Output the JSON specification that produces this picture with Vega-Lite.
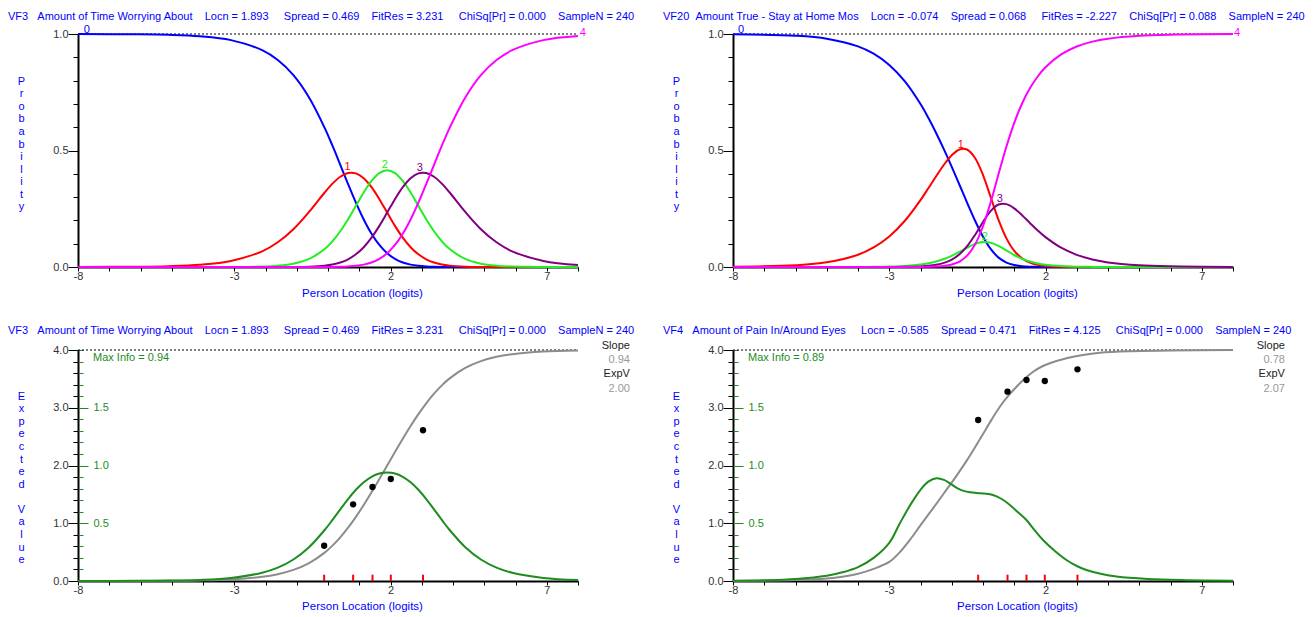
{
"$schema": "https://vega.github.io/schema/vega-lite/v6.json",
"padding": {"left": 8, "top": 11, "right": 5, "bottom": 5},
"config": {
 "font": "Liberation Sans",
 "view": {"stroke": null},
 "axis": {"grid": false, "domainColor": "#000000", "domainWidth": 2, "tickColor": "#000000", "tickWidth": 1, "labelColor": "#333333", "labelFontSize": 11, "labelFont": "Liberation Sans", "titleFont": "Liberation Sans", "titleFontSize": 11, "titleFontWeight": "normal", "titleColor": "#0000ff", "labelFlush": false, "labelOverlap": false, "labelBound": false},
 "title": {"font": "Liberation Sans", "fontSize": 11, "fontWeight": "normal", "color": "#0000ff", "anchor": "start", "frame": "group", "dx": -70},
 "text": {"font": "Liberation Sans", "fontSize": 11}
},
"datasets": {
 "vf3": [
  {"theta":-8,"c0":0.9998,"c1":0.0002,"c2":0,"c3":0,"c4":0,"e":0.0002,"v":0.0002},
  {"theta":-6.107,"c0":0.9987,"c1":0.0013,"c2":0,"c3":0,"c4":0,"e":0.0013,"v":0.0013},
  {"theta":-5.107,"c0":0.9964,"c1":0.0036,"c2":0,"c3":0,"c4":0,"e":0.0036,"v":0.0036},
  {"theta":-4.107,"c0":0.9903,"c1":0.0097,"c2":0,"c3":0,"c4":0,"e":0.0097,"v":0.0096},
  {"theta":-3.107,"c0":0.9737,"c1":0.026,"c2":0.0003,"c3":0,"c4":0,"e":0.0266,"v":0.0265},
  {"theta":-2.107,"c0":0.9304,"c1":0.0674,"c2":0.0022,"c3":0,"c4":0,"e":0.0719,"v":0.0715},
  {"theta":-1.607,"c0":0.8881,"c1":0.1061,"c2":0.0057,"c3":0.0001,"c4":0,"e":0.1177,"v":0.1157},
  {"theta":-1.107,"c0":0.8232,"c1":0.1621,"c2":0.0143,"c3":0.0004,"c4":0,"e":0.192,"v":0.1863},
  {"theta":-0.607,"c0":0.7277,"c1":0.2362,"c2":0.0345,"c3":0.0016,"c4":0,"e":0.3101,"v":0.2927},
  {"theta":-0.107,"c0":0.5973,"c1":0.3197,"c2":0.0769,"c3":0.0059,"c4":0.0002,"e":0.4919,"v":0.4414},
  {"theta":0.143,"c0":0.5205,"c1":0.3578,"c2":0.1105,"c3":0.0108,"c4":0.0005,"e":0.613,"v":0.5287},
  {"theta":0.393,"c0":0.4388,"c1":0.3873,"c2":0.1536,"c3":0.0193,"c4":0.0011,"e":0.7566,"v":0.6202},
  {"theta":0.643,"c0":0.3559,"c1":0.4033,"c2":0.2053,"c3":0.0331,"c4":0.0024,"e":0.9229,"v":0.7093},
  {"theta":0.893,"c0":0.2761,"c1":0.4018,"c2":0.2627,"c3":0.0544,"c4":0.0051,"e":1.1105,"v":0.7896},
  {"theta":1.143,"c0":0.204,"c1":0.381,"c2":0.3199,"c3":0.085,"c4":0.0102,"e":1.3164,"v":0.8551},
  {"theta":1.393,"c0":0.1428,"c1":0.3426,"c2":0.3693,"c3":0.126,"c4":0.0193,"e":1.5364,"v":0.9022},
  {"theta":1.643,"c0":0.0945,"c1":0.2912,"c2":0.403,"c3":0.1766,"c4":0.0348,"e":1.766,"v":0.9302},
  {"theta":1.893,"c0":0.059,"c1":0.2335,"c2":0.4149,"c3":0.2335,"c4":0.059,"e":2,"v":0.939},
  {"theta":2.143,"c0":0.0348,"c1":0.1766,"c2":0.403,"c3":0.2912,"c4":0.0945,"e":2.234,"v":0.9302},
  {"theta":2.393,"c0":0.0193,"c1":0.126,"c2":0.3693,"c3":0.3426,"c4":0.1428,"e":2.4636,"v":0.9022},
  {"theta":2.643,"c0":0.0102,"c1":0.085,"c2":0.3199,"c3":0.381,"c4":0.204,"e":2.6836,"v":0.8551},
  {"theta":2.893,"c0":0.0051,"c1":0.0544,"c2":0.2627,"c3":0.4018,"c4":0.2761,"e":2.8895,"v":0.7896},
  {"theta":3.143,"c0":0.0024,"c1":0.0331,"c2":0.2053,"c3":0.4033,"c4":0.3559,"e":3.0771,"v":0.7093},
  {"theta":3.393,"c0":0.0011,"c1":0.0193,"c2":0.1536,"c3":0.3873,"c4":0.4388,"e":3.2434,"v":0.6202},
  {"theta":3.643,"c0":0.0005,"c1":0.0108,"c2":0.1105,"c3":0.3578,"c4":0.5205,"e":3.387,"v":0.5287},
  {"theta":3.893,"c0":0.0002,"c1":0.0059,"c2":0.0769,"c3":0.3197,"c4":0.5973,"e":3.5081,"v":0.4414},
  {"theta":4.393,"c0":0,"c1":0.0016,"c2":0.0345,"c3":0.2362,"c4":0.7277,"e":3.6899,"v":0.2927},
  {"theta":4.893,"c0":0,"c1":0.0004,"c2":0.0143,"c3":0.1621,"c4":0.8232,"e":3.808,"v":0.1863},
  {"theta":5.393,"c0":0,"c1":0.0001,"c2":0.0057,"c3":0.1061,"c4":0.8881,"e":3.8823,"v":0.1157},
  {"theta":5.893,"c0":0,"c1":0,"c2":0.0022,"c3":0.0674,"c4":0.9304,"e":3.9281,"v":0.0715},
  {"theta":6.893,"c0":0,"c1":0,"c2":0.0003,"c3":0.026,"c4":0.9737,"e":3.9734,"v":0.0265},
  {"theta":8,"c0":0,"c1":0,"c2":0,"c3":0.0087,"c4":0.9913,"e":3.9913,"v":0.0087}
 ],
 "vf20": [
  {"theta":-8,"c0":0.999,"c1":0.001,"c2":0,"c3":0,"c4":0},
  {"theta":-6,"c0":0.9925,"c1":0.0075,"c2":0,"c3":0,"c4":0},
  {"theta":-5,"c0":0.98,"c1":0.02,"c2":0,"c3":0,"c4":0},
  {"theta":-4,"c0":0.9471,"c1":0.0527,"c2":0.0003,"c3":0,"c4":0},
  {"theta":-3.5,"c0":0.9154,"c1":0.0839,"c2":0.0007,"c3":0,"c4":0},
  {"theta":-3,"c0":0.8669,"c1":0.131,"c2":0.0018,"c3":0.0002,"c4":0},
  {"theta":-2.5,"c0":0.7964,"c1":0.1984,"c2":0.0044,"c3":0.0007,"c4":0.0001},
  {"theta":-2,"c0":0.6993,"c1":0.2872,"c2":0.0106,"c3":0.0026,"c4":0.0003},
  {"theta":-1.75,"c0":0.6405,"c1":0.3377,"c2":0.016,"c3":0.005,"c4":0.0008},
  {"theta":-1.5,"c0":0.5753,"c1":0.3896,"c2":0.0237,"c3":0.0095,"c4":0.0019},
  {"theta":-1.25,"c0":0.5047,"c1":0.4388,"c2":0.0343,"c3":0.0176,"c4":0.0046},
  {"theta":-1,"c0":0.4298,"c1":0.4798,"c2":0.0481,"c3":0.0318,"c4":0.0106},
  {"theta":-0.75,"c0":0.352,"c1":0.5045,"c2":0.0649,"c3":0.0551,"c4":0.0235},
  {"theta":-0.5,"c0":0.2734,"c1":0.5031,"c2":0.0832,"c3":0.0906,"c4":0.0498},
  {"theta":-0.25,"c0":0.1976,"c1":0.4669,"c2":0.0991,"c3":0.1387,"c4":0.0977},
  {"theta":0,"c0":0.13,"c1":0.3945,"c2":0.1075,"c3":0.1932,"c4":0.1748},
  {"theta":0.25,"c0":0.0766,"c1":0.2983,"c2":0.1044,"c3":0.2409,"c4":0.2798},
  {"theta":0.5,"c0":0.0402,"c1":0.2014,"c2":0.0905,"c3":0.268,"c4":0.3999},
  {"theta":0.75,"c0":0.0191,"c1":0.123,"c2":0.071,"c3":0.2699,"c4":0.517},
  {"theta":1,"c0":0.0084,"c1":0.0695,"c2":0.0515,"c3":0.2516,"c4":0.6189},
  {"theta":1.25,"c0":0.0035,"c1":0.0372,"c2":0.0354,"c3":0.2222,"c4":0.7017},
  {"theta":1.5,"c0":0.0014,"c1":0.0192,"c2":0.0235,"c3":0.1891,"c4":0.7668},
  {"theta":1.75,"c0":0.0006,"c1":0.0097,"c2":0.0152,"c3":0.157,"c4":0.8176},
  {"theta":2,"c0":0.0002,"c1":0.0048,"c2":0.0097,"c3":0.1282,"c4":0.8571},
  {"theta":2.5,"c0":0,"c1":0.0011,"c2":0.0038,"c3":0.0828,"c4":0.9123},
  {"theta":3,"c0":0,"c1":0.0003,"c2":0.0014,"c3":0.0521,"c4":0.9462},
  {"theta":3.5,"c0":0,"c1":0.0001,"c2":0.0005,"c3":0.0323,"c4":0.9672},
  {"theta":4,"c0":0,"c1":0,"c2":0.0002,"c3":0.0198,"c4":0.98},
  {"theta":5,"c0":0,"c1":0,"c2":0,"c3":0.0074,"c4":0.9926},
  {"theta":6,"c0":0,"c1":0,"c2":0,"c3":0.0027,"c4":0.9973},
  {"theta":8,"c0":0,"c1":0,"c2":0,"c3":0.0004,"c4":0.9996}
 ],
 "tl_labels": [
  {"theta":-7.72,"p":1.017,"label":"0","cat":"c0"},
  {"theta":8.15,"p":1.003,"label":"4","cat":"c4"},
  {"theta":0.625,"p":0.428,"label":"1","cat":"c1"},
  {"theta":1.818,"p":0.438,"label":"2","cat":"c2"},
  {"theta":2.937,"p":0.424,"label":"3","cat":"c3"}
 ],
 "tr_labels": [
  {"theta":-7.74,"p":1.017,"label":"0","cat":"c0"},
  {"theta":8.13,"p":1.003,"label":"4","cat":"c4"},
  {"theta":-0.71,"p":0.524,"label":"1","cat":"c1"},
  {"theta":0.059,"p":0.13,"label":"2","cat":"c2"},
  {"theta":0.539,"p":0.29,"label":"3","cat":"c3"}
 ],
 "top_ref": [{"theta": -8, "p": 1}, {"theta": 8, "p": 1}],
 "bottom_ref": [{"theta": -8, "e": 4}, {"theta": 8, "e": 4}],
 "vf3_obs": [
  {"theta":-0.123,"ev":0.611},{"theta":0.804,"ev":1.328},{"theta":1.424,"ev":1.628},{"theta":2.01,"ev":1.766},{"theta":3.04,"ev":2.61}
 ],
 "vf4_obs": [
  {"theta":-0.155,"ev":2.788},{"theta":0.785,"ev":3.278},{"theta":1.392,"ev":3.48},{"theta":1.978,"ev":3.463},{"theta":3.023,"ev":3.666}
 ],
 "vf4_e": [
  {"theta":-8,"e":0.002},{"theta":-7,"e":0.006},{"theta":-6,"e":0.017},{"theta":-5,"e":0.045},{"theta":-4.5,"e":0.075},{"theta":-4,"e":0.125},{"theta":-3.5,"e":0.21},{"theta":-3,"e":0.33},{"theta":-2.66,"e":0.5},{"theta":-2.3,"e":0.74},{"theta":-2.02,"e":0.95},{"theta":-1.75,"e":1.15},{"theta":-1.5,"e":1.33},{"theta":-1.25,"e":1.52},{"theta":-1.06,"e":1.66},{"theta":-0.8,"e":1.86},{"theta":-0.526,"e":2.08},{"theta":-0.25,"e":2.32},{"theta":0.005,"e":2.55},{"theta":0.27,"e":2.79},{"theta":0.539,"e":3.018},{"theta":0.8,"e":3.2},{"theta":1.073,"e":3.364},{"theta":1.35,"e":3.51},{"theta":1.604,"e":3.624},{"theta":1.87,"e":3.71},{"theta":2.138,"e":3.77},{"theta":2.672,"e":3.856},{"theta":3.2,"e":3.915},{"theta":3.739,"e":3.953},{"theta":4.79,"e":3.98},{"theta":6,"e":3.993},{"theta":8,"e":3.998}
 ],
 "vf4_info": [
  {"theta":-8,"v":0.002},{"theta":-7,"v":0.006},{"theta":-6,"v":0.017},{"theta":-5,"v":0.045},{"theta":-4.5,"v":0.075},{"theta":-4,"v":0.12},{"theta":-3.5,"v":0.2},{"theta":-3,"v":0.33},{"theta":-2.66,"v":0.5},{"theta":-2.3,"v":0.67},{"theta":-2.0,"v":0.79},{"theta":-1.75,"v":0.86},{"theta":-1.49,"v":0.889},{"theta":-1.25,"v":0.875},{"theta":-1.06,"v":0.846},{"theta":-0.8,"v":0.8},{"theta":-0.53,"v":0.774},{"theta":-0.2,"v":0.762},{"theta":0.05,"v":0.757},{"theta":0.32,"v":0.745},{"theta":0.6,"v":0.71},{"theta":0.86,"v":0.658},{"theta":1.12,"v":0.595},{"theta":1.39,"v":0.528},{"theta":1.65,"v":0.44},{"theta":1.92,"v":0.355},{"theta":2.3,"v":0.26},{"theta":2.67,"v":0.182},{"theta":3.0,"v":0.13},{"theta":3.31,"v":0.095},{"theta":3.8,"v":0.06},{"theta":4.27,"v":0.038},{"theta":5.27,"v":0.017},{"theta":6.5,"v":0.007},{"theta":8,"v":0.002}
 ],
 "vf3_note": [{"theta":-7.52,"ev":3.86,"text":"Max Info = 0.94"}],
 "vf4_note": [{"theta":-7.52,"ev":3.86,"text":"Max Info = 0.89"}],
 "vf3_stats": [
  {"theta":9.66,"ev":4.074,"text":"Slope","kind":"label"},
  {"theta":9.66,"ev":3.827,"text":"0.94","kind":"value"},
  {"theta":9.66,"ev":3.579,"text":"ExpV","kind":"label"},
  {"theta":9.66,"ev":3.325,"text":"2.00","kind":"value"}
 ],
 "vf4_stats": [
  {"theta":9.66,"ev":4.074,"text":"Slope","kind":"label"},
  {"theta":9.66,"ev":3.827,"text":"0.78","kind":"value"},
  {"theta":9.66,"ev":3.579,"text":"ExpV","kind":"label"},
  {"theta":9.66,"ev":3.325,"text":"2.07","kind":"value"}
 ]
},
"columns": 2,
"spacing": {"row": 83, "column": 155},
"bounds": "flush",
"resolve": {"scale": {"color": "independent"}},
"concat": [
 {
  "width": 500, "height": 233,
  "title": {"text": "VF3\u00a0\u00a0\u00a0Amount of Time Worrying About\u00a0\u00a0\u00a0\u00a0Locn = 1.893\u00a0\u00a0\u00a0\u00a0\u00a0Spread = 0.469\u00a0\u00a0\u00a0\u00a0FitRes = 3.231\u00a0\u00a0\u00a0\u00a0\u00a0ChiSq[Pr] = 0.000\u00a0\u00a0\u00a0\u00a0SampleN = 240", "offset": 2},
  "encoding": {
   "x": {"field": "theta", "type": "quantitative", "scale": {"domain": [-8, 8], "nice": false, "zero": false},
    "axis": {"values": [-8,-7,-6,-5,-4,-3,-2,-1,0,1,2,3,4,5,6,7,8], "labelExpr": "(datum.value + 8) % 5 === 0 ? '' + datum.value : ''", "labelOverlap": false, "title": "Person Location (logits)", "titleFontSize": 11.5, "tickSize": 4, "labelPadding": -1, "titleX": 284, "titleY": 26, "titleBaseline": "middle", "titleAlign": "center"}},
   "y": {"field": "p", "type": "quantitative", "scale": {"domain": [0, 1]},
    "axis": {"values": [0,0.1,0.2,0.3,0.4,0.5,0.6,0.7,0.8,0.9,1], "labelExpr": "datum.value === 0 || datum.value === 0.5 || datum.value === 1 ? format(datum.value, '.1f') : ''", "labelOverlap": false, "tickSize": {"condition": {"test": "datum.value === 0 || datum.value === 0.5 || datum.value === 1", "value": 10}, "value": 5}, "labelPadding": 0, "title": ["P","r","o","b","a","b","i","l","i","t","y"], "titleAngle": 0, "titleX": -57, "titleY": 41, "titleBaseline": "top", "titleAlign": "center", "titleLineHeight": 12.6}}
  },
  "layer": [
   {"data": {"name": "top_ref"},
    "mark": {"type": "line", "strokeDash": [2, 2], "color": "#000000", "strokeWidth": 1},
    "encoding": {}},
   {"data": {"name": "vf3"},
    "transform": [{"fold": ["c0", "c1", "c2", "c3", "c4"], "as": ["cat", "p"]}],
    "mark": {"type": "line", "interpolate": "catmull-rom", "strokeWidth": 2},
    "encoding": {
     "color": {"field": "cat", "type": "nominal", "scale": {"domain": ["c0","c1","c2","c3","c4"], "range": ["#0000ff","#ff0000","#22ee22","#800080","#ff00ff"]}, "legend": null}
    }},
   {"data": {"name": "tl_labels"},
    "mark": {"type": "text", "fontSize": 11, "baseline": "middle", "align": "center"},
    "encoding": {
     "text": {"field": "label"},
     "color": {"field": "cat", "type": "nominal", "scale": {"domain": ["c0","c1","c2","c3","c4"], "range": ["#0000ff","#ff0000","#22ee22","#800080","#ff00ff"]}, "legend": null}
    }}
  ]
 },
 {
  "width": 500, "height": 233,
  "title": {"text": "VF20\u00a0\u00a0Amount True - Stay at Home Mos\u00a0\u00a0\u00a0\u00a0Locn = -0.074\u00a0\u00a0\u00a0\u00a0Spread = 0.068\u00a0\u00a0\u00a0\u00a0\u00a0FitRes = -2.227\u00a0\u00a0\u00a0\u00a0ChiSq[Pr] = 0.088\u00a0\u00a0\u00a0\u00a0SampleN = 240", "offset": 2},
  "encoding": {
   "x": {"field": "theta", "type": "quantitative", "scale": {"domain": [-8, 8], "nice": false, "zero": false},
    "axis": {"values": [-8,-7,-6,-5,-4,-3,-2,-1,0,1,2,3,4,5,6,7,8], "labelExpr": "(datum.value + 8) % 5 === 0 ? '' + datum.value : ''", "labelOverlap": false, "title": "Person Location (logits)", "titleFontSize": 11.5, "tickSize": 4, "labelPadding": -1, "titleX": 284, "titleY": 26, "titleBaseline": "middle", "titleAlign": "center"}},
   "y": {"field": "p", "type": "quantitative", "scale": {"domain": [0, 1]},
    "axis": {"values": [0,0.1,0.2,0.3,0.4,0.5,0.6,0.7,0.8,0.9,1], "labelExpr": "datum.value === 0 || datum.value === 0.5 || datum.value === 1 ? format(datum.value, '.1f') : ''", "labelOverlap": false, "tickSize": {"condition": {"test": "datum.value === 0 || datum.value === 0.5 || datum.value === 1", "value": 10}, "value": 5}, "labelPadding": 0, "title": ["P","r","o","b","a","b","i","l","i","t","y"], "titleAngle": 0, "titleX": -57, "titleY": 41, "titleBaseline": "top", "titleAlign": "center", "titleLineHeight": 12.6}}
  },
  "layer": [
   {"data": {"name": "top_ref"},
    "mark": {"type": "line", "strokeDash": [2, 2], "color": "#000000", "strokeWidth": 1},
    "encoding": {}},
   {"data": {"name": "vf20"},
    "transform": [{"fold": ["c0", "c1", "c2", "c3", "c4"], "as": ["cat", "p"]}],
    "mark": {"type": "line", "interpolate": "catmull-rom", "strokeWidth": 2},
    "encoding": {
     "color": {"field": "cat", "type": "nominal", "scale": {"domain": ["c0","c1","c2","c3","c4"], "range": ["#0000ff","#ff0000","#22ee22","#800080","#ff00ff"]}, "legend": null}
    }},
   {"data": {"name": "tr_labels"},
    "mark": {"type": "text", "fontSize": 11, "baseline": "middle", "align": "center"},
    "encoding": {
     "text": {"field": "label"},
     "color": {"field": "cat", "type": "nominal", "scale": {"domain": ["c0","c1","c2","c3","c4"], "range": ["#0000ff","#ff0000","#22ee22","#800080","#ff00ff"]}, "legend": null}
    }}
  ]
 },
 {
  "width": 500, "height": 231,
  "title": {"text": "VF3\u00a0\u00a0\u00a0Amount of Time Worrying About\u00a0\u00a0\u00a0\u00a0Locn = 1.893\u00a0\u00a0\u00a0\u00a0\u00a0Spread = 0.469\u00a0\u00a0\u00a0\u00a0FitRes = 3.231\u00a0\u00a0\u00a0\u00a0\u00a0ChiSq[Pr] = 0.000\u00a0\u00a0\u00a0\u00a0SampleN = 240", "offset": 4},
  "resolve": {"scale": {"y": "independent"}},
  "encoding": {
   "x": {"field": "theta", "type": "quantitative", "scale": {"domain": [-8, 8], "nice": false, "zero": false},
    "axis": {"values": [-8,-7,-6,-5,-4,-3,-2,-1,0,1,2,3,4,5,6,7,8], "labelExpr": "(datum.value + 8) % 5 === 0 ? '' + datum.value : ''", "labelOverlap": false, "title": "Person Location (logits)", "titleFontSize": 11.5, "tickSize": 4, "labelPadding": -1, "titleX": 284, "titleY": 25, "titleBaseline": "middle", "titleAlign": "center"}}
  },
  "layer": [
   {"encoding": {
     "y": {"field": "e", "type": "quantitative", "scale": {"domain": [0, 4]},
      "axis": {"values": [0,0.2,0.4,0.6,0.8,1,1.2,1.4,1.6,1.8,2,2.2,2.4,2.6,2.8,3,3.2,3.4,3.6,3.8,4], "labelExpr": "datum.value % 1 === 0 ? format(datum.value, '.1f') : ''", "labelOverlap": false, "tickSize": {"condition": {"test": "datum.value % 1 === 0", "value": 10}, "value": 5}, "labelPadding": 0, "title": ["E","x","p","e","c","t","e","d","\u2800","V","a","l","u","e"], "titleAngle": 0, "titleX": -57, "titleY": 40, "titleBaseline": "top", "titleAlign": "center", "titleLineHeight": 12.6}}
    },
    "layer": [
     {"data": {"name": "bottom_ref"},
      "mark": {"type": "line", "strokeDash": [2, 2], "color": "#000000", "strokeWidth": 1},
      "encoding": {}},
     {"data": {"name": "vf3"},
      "mark": {"type": "line", "interpolate": "catmull-rom", "strokeWidth": 2, "color": "#8c8c8c"},
      "encoding": {}}
   ]},
   {"data": {"name": "vf3"},
    "mark": {"type": "line", "interpolate": "catmull-rom", "strokeWidth": 2, "color": "#1e8c1e"},
    "encoding": {
     "y": {"field": "v", "type": "quantitative", "scale": {"domain": [0, 2]},
      "axis": {"orient": "right", "offset": -500, "domain": false, "values": [0,0.1,0.2,0.3,0.4,0.5,0.6,0.7,0.8,0.9,1,1.1,1.2,1.3,1.4,1.5,1.6,1.7,1.8,1.9,2], "labelExpr": "datum.value === 0.5 || datum.value === 1 || datum.value === 1.5 ? format(datum.value, '.1f') : ''", "labelOverlap": false, "tickSize": {"condition": {"test": "datum.value === 0.5 || datum.value === 1 || datum.value === 1.5", "value": 10}, "value": 5}, "tickColor": "#1e8c1e", "labelColor": "#1e8c1e", "labelPadding": 5, "title": null}}
    }},
   {"layer": [
     {"data": {"name": "vf3_obs"},
      "mark": {"type": "rule", "color": "#ff0000", "strokeWidth": 2},
      "encoding": {
       "y": {"datum": 0, "type": "quantitative", "scale": {"domain": [0, 4]}, "axis": null},
       "y2": {"datum": 0.11}
      }},
     {"data": {"name": "vf3_obs"},
      "mark": {"type": "circle", "color": "#000000", "size": 40, "opacity": 1},
      "encoding": {
       "y": {"field": "ev", "type": "quantitative", "scale": {"domain": [0, 4]}, "axis": null}
      }},
     {"data": {"name": "vf3_note"},
      "mark": {"type": "text", "align": "left", "baseline": "middle", "fontSize": 11, "color": "#1e8c1e"},
      "encoding": {
       "y": {"field": "ev", "type": "quantitative", "scale": {"domain": [0, 4]}, "axis": null},
       "text": {"field": "text"}
      }},
     {"data": {"name": "vf3_stats"},
      "mark": {"type": "text", "align": "right", "baseline": "middle", "fontSize": 11},
      "encoding": {
       "y": {"field": "ev", "type": "quantitative", "scale": {"domain": [0, 4]}, "axis": null},
       "text": {"field": "text"},
       "color": {"field": "kind", "type": "nominal", "scale": {"domain": ["label", "value"], "range": ["#222222", "#999999"]}, "legend": null}
      }}
   ]}
  ]
 },
 {
  "width": 500, "height": 231,
  "title": {"text": "VF4\u00a0\u00a0\u00a0Amount of Pain In/Around Eyes\u00a0\u00a0\u00a0\u00a0\u00a0Locn = -0.585\u00a0\u00a0\u00a0\u00a0Spread = 0.471\u00a0\u00a0\u00a0\u00a0FitRes = 4.125\u00a0\u00a0\u00a0\u00a0\u00a0ChiSq[Pr] = 0.000\u00a0\u00a0\u00a0\u00a0SampleN = 240", "offset": 4},
  "resolve": {"scale": {"y": "independent"}},
  "encoding": {
   "x": {"field": "theta", "type": "quantitative", "scale": {"domain": [-8, 8], "nice": false, "zero": false},
    "axis": {"values": [-8,-7,-6,-5,-4,-3,-2,-1,0,1,2,3,4,5,6,7,8], "labelExpr": "(datum.value + 8) % 5 === 0 ? '' + datum.value : ''", "labelOverlap": false, "title": "Person Location (logits)", "titleFontSize": 11.5, "tickSize": 4, "labelPadding": -1, "titleX": 284, "titleY": 25, "titleBaseline": "middle", "titleAlign": "center"}}
  },
  "layer": [
   {"encoding": {
     "y": {"field": "e", "type": "quantitative", "scale": {"domain": [0, 4]},
      "axis": {"values": [0,0.2,0.4,0.6,0.8,1,1.2,1.4,1.6,1.8,2,2.2,2.4,2.6,2.8,3,3.2,3.4,3.6,3.8,4], "labelExpr": "datum.value % 1 === 0 ? format(datum.value, '.1f') : ''", "labelOverlap": false, "tickSize": {"condition": {"test": "datum.value % 1 === 0", "value": 10}, "value": 5}, "labelPadding": 0, "title": ["E","x","p","e","c","t","e","d","\u2800","V","a","l","u","e"], "titleAngle": 0, "titleX": -57, "titleY": 40, "titleBaseline": "top", "titleAlign": "center", "titleLineHeight": 12.6}}
    },
    "layer": [
     {"data": {"name": "bottom_ref"},
      "mark": {"type": "line", "strokeDash": [2, 2], "color": "#000000", "strokeWidth": 1},
      "encoding": {}},
     {"data": {"name": "vf4_e"},
      "mark": {"type": "line", "interpolate": "catmull-rom", "strokeWidth": 2, "color": "#8c8c8c"},
      "encoding": {}}
   ]},
   {"data": {"name": "vf4_info"},
    "mark": {"type": "line", "interpolate": "catmull-rom", "strokeWidth": 2, "color": "#1e8c1e"},
    "encoding": {
     "y": {"field": "v", "type": "quantitative", "scale": {"domain": [0, 2]},
      "axis": {"orient": "right", "offset": -500, "domain": false, "values": [0,0.1,0.2,0.3,0.4,0.5,0.6,0.7,0.8,0.9,1,1.1,1.2,1.3,1.4,1.5,1.6,1.7,1.8,1.9,2], "labelExpr": "datum.value === 0.5 || datum.value === 1 || datum.value === 1.5 ? format(datum.value, '.1f') : ''", "labelOverlap": false, "tickSize": {"condition": {"test": "datum.value === 0.5 || datum.value === 1 || datum.value === 1.5", "value": 10}, "value": 5}, "tickColor": "#1e8c1e", "labelColor": "#1e8c1e", "labelPadding": 5, "title": null}}
    }},
   {"layer": [
     {"data": {"name": "vf4_obs"},
      "mark": {"type": "rule", "color": "#ff0000", "strokeWidth": 2},
      "encoding": {
       "y": {"datum": 0, "type": "quantitative", "scale": {"domain": [0, 4]}, "axis": null},
       "y2": {"datum": 0.11}
      }},
     {"data": {"name": "vf4_obs"},
      "mark": {"type": "circle", "color": "#000000", "size": 40, "opacity": 1},
      "encoding": {
       "y": {"field": "ev", "type": "quantitative", "scale": {"domain": [0, 4]}, "axis": null}
      }},
     {"data": {"name": "vf4_note"},
      "mark": {"type": "text", "align": "left", "baseline": "middle", "fontSize": 11, "color": "#1e8c1e"},
      "encoding": {
       "y": {"field": "ev", "type": "quantitative", "scale": {"domain": [0, 4]}, "axis": null},
       "text": {"field": "text"}
      }},
     {"data": {"name": "vf4_stats"},
      "mark": {"type": "text", "align": "right", "baseline": "middle", "fontSize": 11},
      "encoding": {
       "y": {"field": "ev", "type": "quantitative", "scale": {"domain": [0, 4]}, "axis": null},
       "text": {"field": "text"},
       "color": {"field": "kind", "type": "nominal", "scale": {"domain": ["label", "value"], "range": ["#222222", "#999999"]}, "legend": null}
      }}
   ]}
  ]
 }
]
}
